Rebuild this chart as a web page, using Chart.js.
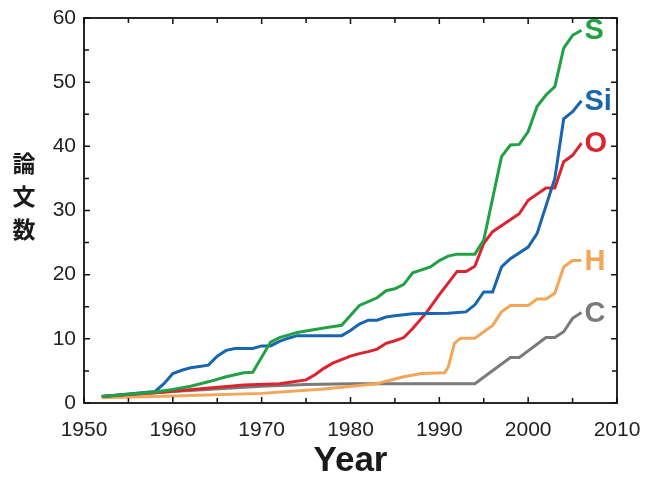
<!DOCTYPE html>
<html>
<head>
<meta charset="utf-8">
<script src="https://cdn.jsdelivr.net/npm/chart.js"></script>
<style>
  html, body { margin: 0; padding: 0; background: #fff; }
  #wrap { width: 649px; height: 483px; }
</style>
</head>
<body>
<div id="wrap"><canvas id="line-chart"></canvas></div>
<script>
// cumulative papers per element
const sYears = [1952, 1958, 1960, 1962, 1964, 1966, 1968, 1969, 1971, 1972, 1974, 1977, 1979, 1981, 1982, 1983, 1984, 1985, 1986, 1987, 1989, 1990, 1991, 1992, 1994, 1995, 1997, 1998, 1999, 2000, 2001, 2002, 2003, 2004, 2005, 2006];
const sValues = [1.0, 1.7, 2.1, 2.6, 3.3, 4.1, 4.7, 4.8, 9.5, 10.2, 11.0, 11.7, 12.1, 15.2, 15.8, 16.4, 17.5, 17.8, 18.5, 20.3, 21.2, 22.2, 22.9, 23.2, 23.2, 25.4, 38.4, 40.2, 40.3, 42.3, 46.2, 48.0, 49.3, 55.3, 57.3, 58.1];

const siYears = [1952, 1958, 1959, 1960, 1961, 1962, 1963, 1964, 1965, 1966, 1967, 1969, 1970, 1971, 1972, 1973, 1974, 1979, 1980, 1981, 1982, 1983, 1984, 1985, 1987, 1991, 1993, 1994, 1995, 1996, 1997, 1998, 2000, 2001, 2003, 2004, 2005, 2006];
const siValues = [1.0, 1.8, 3.0, 4.6, 5.1, 5.5, 5.7, 5.9, 7.3, 8.2, 8.5, 8.5, 8.9, 8.9, 9.6, 10.1, 10.5, 10.5, 11.3, 12.3, 12.9, 12.9, 13.4, 13.6, 13.9, 14.0, 14.2, 15.3, 17.3, 17.3, 21.2, 22.5, 24.3, 26.4, 35.0, 44.3, 45.4, 47.1];

const oYears = [1952, 1958, 1968, 1972, 1973, 1975, 1976, 1977, 1978, 1980, 1981, 1982, 1983, 1984, 1985, 1986, 1987, 1988.5, 1990, 1992, 1993, 1994, 1995, 1996, 1999, 2000, 2002, 2003, 2004, 2005, 2006];
const oValues = [1.0, 1.6, 2.8, 3.0, 3.2, 3.6, 4.4, 5.4, 6.2, 7.3, 7.7, 8.0, 8.4, 9.3, 9.7, 10.2, 11.6, 14.0, 16.9, 20.5, 20.5, 21.3, 24.9, 26.7, 29.5, 31.6, 33.5, 33.5, 37.6, 38.6, 40.5];

const hYears = [1952, 1960, 1970, 1977, 1983, 1984, 1986, 1988, 1990.6, 1991, 1991.7, 1992.4, 1994, 1996, 1997, 1998, 2000, 2001, 2002, 2003, 2004, 2005, 2006];
const hValues = [0.8, 1.1, 1.5, 2.2, 3.0, 3.4, 4.1, 4.6, 4.7, 5.6, 9.3, 10.1, 10.1, 12.1, 14.2, 15.2, 15.2, 16.2, 16.2, 17.1, 21.2, 22.2, 22.2];

const cYears = [1952, 1960, 1970, 1975, 1980, 1994, 1998, 1999, 2002, 2003, 2004, 2005, 2006];
const cValues = [1.0, 1.8, 2.6, 2.9, 3.0, 3.0, 7.1, 7.1, 10.2, 10.2, 11.1, 13.2, 14.1];

const seriesNames = ['S', 'Si', 'O', 'H', 'C'];
const seriesColors = ['#22a144', '#1766ae', '#db2430', '#f3a657', '#7a7a7a'];

const xTicks = [1950, 1960, 1970, 1980, 1990, 2000, 2010];
const yTicks = [0, 10, 20, 30, 40, 50, 60];

const toPoints = (years, values) => years.map((y, i) => ({ x: y, y: values[i] }));

const allSeries = [
  toPoints(sYears, sValues),
  toPoints(siYears, siValues),
  toPoints(oYears, oValues),
  toPoints(hYears, hValues),
  toPoints(cYears, cValues)
];

const PAD = { left: 0, top: 18, right: 32, bottom: 0 };
const tickFont = '21px "Liberation Sans", Arial, sans-serif';

// frame, inward ticks, end labels and titles
const decorPlugin = {
  id: 'decor',
  afterDatasetsDraw(chart) {
    const { ctx, chartArea: a, scales: { x, y } } = chart;
    ctx.save();
    ctx.strokeStyle = '#111';
    ctx.lineWidth = 1.8;
    ctx.strokeRect(a.left, a.top, a.right - a.left, a.bottom - a.top);

    ctx.lineWidth = 1.5;
    ctx.beginPath();
    for (let v = 1950; v <= 2010; v += 5) {
      const px = x.getPixelForValue(v);
      const len = v % 10 === 0 ? 6 : 5;
      ctx.moveTo(px, a.bottom); ctx.lineTo(px, a.bottom - len);
      ctx.moveTo(px, a.top); ctx.lineTo(px, a.top + len);
    }
    for (let v = 0; v <= 60; v += 5) {
      const py = y.getPixelForValue(v);
      const len = v % 10 === 0 ? 6 : 5;
      ctx.moveTo(a.left, py); ctx.lineTo(a.left + len, py);
      ctx.moveTo(a.right, py); ctx.lineTo(a.right - len, py);
    }
    ctx.stroke();

    // tick labels
    ctx.fillStyle = '#222';
    ctx.font = tickFont;
    ctx.textAlign = 'center';
    ctx.textBaseline = 'middle';
    xTicks.forEach(v => ctx.fillText(String(v), x.getPixelForValue(v), a.bottom + 27));
    ctx.textAlign = 'right';
    yTicks.forEach(v => ctx.fillText(String(v), a.left - 8, y.getPixelForValue(v)));

    // axis titles
    ctx.fillStyle = '#1a1a1a';
    ctx.textAlign = 'center';
    ctx.font = 'bold 35px "Liberation Sans", Arial, sans-serif';
    ctx.textBaseline = 'alphabetic';
    ctx.fillText('Year', (a.left + a.right) / 2, 471);
    ctx.font = 'bold 23px "Noto Sans CJK JP", sans-serif';
    ctx.textBaseline = 'middle';
    ['論', '文', '数'].forEach((ch, i) => ctx.fillText(ch, 24, 163 + i * 33));

    // series labels at line ends
    ctx.font = 'bold 29px "Liberation Sans", Arial, sans-serif';
    ctx.textAlign = 'left';
    chart.data.datasets.forEach((ds, i) => {
      const last = ds.data[ds.data.length - 1];
      ctx.fillStyle = seriesColors[i];
      ctx.fillText(seriesNames[i], x.getPixelForValue(last.x) + 3, y.getPixelForValue(last.y) + 1);
    });
    ctx.restore();
  }
};

new Chart(document.getElementById('line-chart'), {
  type: 'line',
  data: {
    datasets: allSeries.map((pts, i) => ({
      label: seriesNames[i],
      data: pts,
      borderColor: seriesColors[i],
      borderWidth: 3,
      pointRadius: 0,
      tension: 0,
      fill: false
    }))
  },
  options: {
    responsive: true,
    maintainAspectRatio: false,
    animation: false,
    layout: { padding: PAD },
    plugins: { legend: { display: false }, tooltip: { enabled: false } },
    scales: {
      x: {
        type: 'linear',
        min: 1950,
        max: 2010,
        grid: { display: false },
        border: { display: false },
        ticks: { display: false },
        afterFit: (s) => { s.height = 483 - 403; }
      },
      y: {
        min: 0,
        max: 60,
        grid: { display: false },
        border: { display: false },
        ticks: { display: false },
        afterFit: (s) => { s.width = 84; }
      }
    }
  },
  plugins: [decorPlugin]
});
</script>
</body>
</html>
